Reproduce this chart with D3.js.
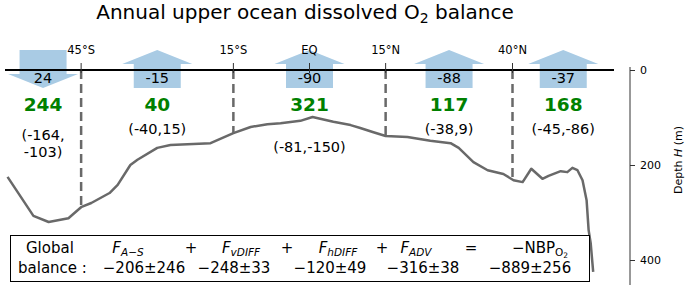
<!DOCTYPE html>
<html>
<head>
<meta charset="utf-8">
<script src="https://cdn.jsdelivr.net/npm/d3@7"></script>
<style>
body { margin: 0; background: #fff; }
svg { font-family: "DejaVu Sans", sans-serif; }
</style>
</head>
<body>
<svg id="chart" width="685" height="285"></svg>
<script>
const WIDTH = 685;
const HEIGHT = 285;

// latitude boundaries of the regions
const boundaryLats = [-45, -15, 0, 15, 40];
const boundaryLabels = ["45°S", "15°S", "EQ", "15°N", "40°N"];
const boundaryDashed = [true, true, false, true, true];

// regions
const regionCenters = [-52.5, -30, 0, 27.5, 50];
const airSeaFlux = [24, -15, -90, -88, -37];
const netBioProd = [244, 40, 321, 117, 168];
const fluxPairs = [[-164, -103], [-40, 15], [-81, -150], [-38, 9], [-45, -86]];

// depth H curve
const curveLat = [-59.5, -54.4, -51.4, -47.5, -44.9, -43.0, -39.4, -37.8, -35.3, -33.9,
	-30.0, -27.4, -19.5, -15.0, -11.6, -8.3, -5.7, -1.8, 0.6, 4.7, 8.1, 10.0, 12.6, 15.0,
	19.3, 23.8, 27.8, 29.4, 32.3, 35.1, 38.2, 40.2, 42.0, 43.7, 45.9, 47.1, 49.5, 50.8,
	51.8, 52.8, 53.8, 54.6, 55.0, 55.4, 55.9];
const curveDepth = [225, 307, 320, 312, 288, 280, 259, 242, 200, 189,
	164, 158, 154, 133, 120, 114, 112, 107, 99, 109, 116, 122, 131, 139,
	141, 149, 154, 164, 194, 211, 219, 232, 236, 208, 229, 223, 213, 215,
	206, 211, 232, 274, 337, 364, 425];

const depthTicks = [0, 200, 400];

// global balance table
const balanceTerms = [
	{ main: "F", sub: "A−S" },
	{ main: "F", sub: "vDIFF" },
	{ main: "F", sub: "hDIFF" },
	{ main: "F", sub: "ADV" },
];
const balanceValues = ["−206±246", "−248±33", "−120±49", "−316±38", "−889±256"];

const svg = d3.select("#chart");
const xScale = d3.scaleLinear([-60, 60], [5, 614]);
const yScale = d3.scaleLinear([0, 400], [70, 260]);

const ARROW_COLOR = "#a9cbe4";
const GRAY = "#696969";

// title
const title = svg.append("text")
	.attr("x", 305)
	.attr("y", 19)
	.attr("text-anchor", "middle")
	.attr("font-size", 20)
	.attr("fill", "#000");
title.append("tspan").text("Annual upper ocean dissolved O");
title.append("tspan").attr("font-size", 14).attr("dy", 4).text("2");
title.append("tspan").attr("dy", -4).text(" balance");

// arrows
function arrowPoints(cx, down) {
	const hb = 23.5, hh = 35;
	if (down) {
		return [[cx - hb, 50], [cx + hb, 50], [cx + hb, 74], [cx + hh, 74],
			[cx, 88], [cx - hh, 74], [cx - hb, 74]];
	}
	return [[cx, 50], [cx + hh, 64], [cx + hb, 64], [cx + hb, 88],
		[cx - hb, 88], [cx - hb, 64], [cx - hh, 64]];
}

svg.selectAll(".arrow")
	.data(regionCenters)
	.join("polygon")
	.classed("arrow", true)
	.attr("points", (d, i) => arrowPoints(xScale(d), airSeaFlux[i] > 0).join(" "))
	.attr("fill", ARROW_COLOR);

// depth curve
const line = d3.line()
	.x(d => xScale(d[0]))
	.y(d => yScale(d[1]));
const curve = curveLat.map((lat, i) => [lat, curveDepth[i]]);

svg.append("path")
	.datum(curve)
	.attr("d", line)
	.attr("fill", "none")
	.attr("stroke", GRAY)
	.attr("stroke-width", 2.5)
	.attr("stroke-linejoin", "round");

function depthAt(lat) {
	const i = d3.bisectLeft(curveLat, lat);
	const t = (lat - curveLat[i - 1]) / (curveLat[i] - curveLat[i - 1]);
	return curveDepth[i - 1] + t * (curveDepth[i] - curveDepth[i - 1]);
}

// dashed region boundaries
svg.selectAll(".boundary")
	.data(boundaryLats.filter((d, i) => boundaryDashed[i]))
	.join("line")
	.classed("boundary", true)
	.attr("x1", d => xScale(d))
	.attr("x2", d => xScale(d))
	.attr("y1", yScale(0))
	.attr("y2", d => yScale(depthAt(d)))
	.attr("stroke", GRAY)
	.attr("stroke-width", 2.5)
	.attr("stroke-dasharray", "9,5");

// surface line
svg.append("line")
	.attr("x1", xScale(-60))
	.attr("x2", xScale(60))
	.attr("y1", yScale(0))
	.attr("y2", yScale(0))
	.attr("stroke", "#000")
	.attr("stroke-width", 2);

// latitude ticks + labels
svg.selectAll(".lat-tick")
	.data(boundaryLats)
	.join("line")
	.classed("lat-tick", true)
	.attr("x1", d => xScale(d))
	.attr("x2", d => xScale(d))
	.attr("y1", yScale(0) - 7)
	.attr("y2", yScale(0) + 3)
	.attr("stroke", "#333")
	.attr("stroke-width", 1);

svg.selectAll(".lat-label")
	.data(boundaryLats)
	.join("text")
	.classed("lat-label", true)
	.attr("x", d => xScale(d))
	.attr("y", 54)
	.attr("text-anchor", "middle")
	.attr("font-size", 11.5)
	.text((d, i) => boundaryLabels[i]);

// air-sea flux values inside arrows
svg.selectAll(".flux-label")
	.data(regionCenters)
	.join("text")
	.classed("flux-label", true)
	.attr("x", d => xScale(d))
	.attr("y", 83)
	.attr("text-anchor", "middle")
	.attr("font-size", 14.5)
	.text((d, i) => airSeaFlux[i]);

// NBP values
svg.selectAll(".nbp-label")
	.data(regionCenters)
	.join("text")
	.classed("nbp-label", true)
	.attr("x", d => xScale(d))
	.attr("y", 111)
	.attr("text-anchor", "middle")
	.attr("font-size", 18.5)
	.attr("font-weight", "bold")
	.attr("fill", "green")
	.text((d, i) => netBioProd[i]);

// flux pairs
const pairY = [140, 134, 152, 134, 134];
svg.selectAll(".pair-label")
	.data(regionCenters)
	.join("text")
	.classed("pair-label", true)
	.attr("x", d => xScale(d))
	.attr("y", (d, i) => pairY[i])
	.attr("text-anchor", "middle")
	.attr("font-size", 14.5)
	.each(function (d, i) {
		const p = fluxPairs[i];
		const t = d3.select(this);
		if (i === 0) {
			t.append("tspan").attr("x", xScale(d)).text(`(${p[0]},`);
			t.append("tspan").attr("x", xScale(d)).attr("dy", 17).text(`${p[1]})`);
		} else {
			t.text(`(${p[0]},${p[1]})`);
		}
	});

// right depth axis
const axis = svg.append("g")
	.attr("transform", "translate(630,0)")
	.call(d3.axisRight(yScale).tickValues(depthTicks).tickSize(5).tickPadding(5));
axis.select(".domain")
	.attr("d", `M0,67V${HEIGHT + 5}`)
	.attr("stroke", "#333");
axis.selectAll(".tick line").attr("stroke", "#333");
axis.selectAll(".tick text")
	.attr("font-size", 11)
	.attr("font-family", "DejaVu Sans");

const yLabel = svg.append("text")
	.attr("transform", "translate(682,160) rotate(-90)")
	.attr("text-anchor", "middle")
	.attr("font-size", 11);
yLabel.append("tspan").text("Depth ");
yLabel.append("tspan").attr("font-style", "italic").text("H");
yLabel.append("tspan").text(" (m)");

// global balance box
svg.append("rect")
	.attr("x", 10.5)
	.attr("y", 235.5)
	.attr("width", 579)
	.attr("height", 46)
	.attr("fill", "#fff")
	.attr("stroke", "#000")
	.attr("stroke-width", 1);

const row1Y = 253;
const row2Y = 273;
const FS = 15;

svg.append("text").attr("x", 26).attr("y", row1Y).attr("font-size", FS).text("Global");
svg.append("text").attr("x", 18).attr("y", row2Y).attr("font-size", FS).text("balance :");

const termX = [128, 241, 338, 416];
balanceTerms.forEach((term, i) => {
	const t = svg.append("text")
		.attr("x", termX[i])
		.attr("y", row1Y)
		.attr("text-anchor", "middle")
		.attr("font-size", FS)
		.attr("font-style", "italic");
	t.append("tspan").text(term.main);
	t.append("tspan").attr("font-size", 10.5).attr("dy", 3).text(term.sub);
});

const opX = [191, 287, 382, 471];
const opText = ["+", "+", "+", "="];
svg.selectAll(".op")
	.data(opX)
	.join("text")
	.classed("op", true)
	.attr("x", d => d)
	.attr("y", row1Y)
	.attr("text-anchor", "middle")
	.attr("font-size", FS)
	.text((d, i) => opText[i]);

const nbpTerm = svg.append("text")
	.attr("x", 540)
	.attr("y", row1Y)
	.attr("text-anchor", "middle")
	.attr("font-size", FS);
nbpTerm.append("tspan").text("−NBP");
nbpTerm.append("tspan").attr("font-size", 10.5).attr("dy", 3).text("O");
nbpTerm.append("tspan").attr("font-size", 7.5).attr("dy", 2).text("2");

const valX = [144, 234, 330, 423, 530];
svg.selectAll(".bal-val")
	.data(balanceValues)
	.join("text")
	.classed("bal-val", true)
	.attr("x", (d, i) => valX[i])
	.attr("y", row2Y)
	.attr("text-anchor", "middle")
	.attr("font-size", FS)
	.text(d => d);
</script>
</body>
</html>
